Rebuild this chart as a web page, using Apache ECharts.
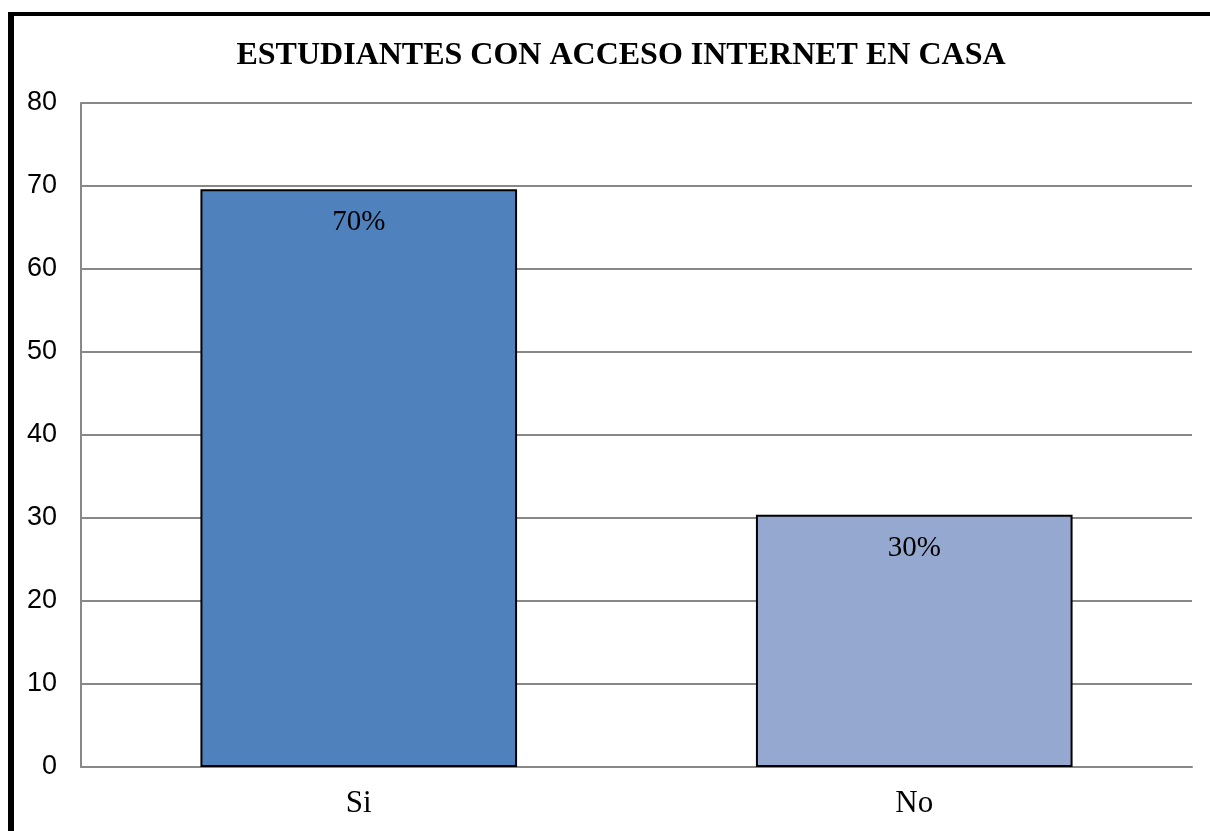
<!DOCTYPE html>
<html>
<head>
<meta charset="utf-8">
<script src="https://cdn.jsdelivr.net/npm/echarts@6/dist/echarts.min.js"></script>
<style>
html,body{margin:0;padding:0;background:#fff;}
#chart{width:1210px;height:831px;}
</style>
</head>
<body>
<div id="chart"></div>
<script>
const titleText = 'ESTUDIANTES CON ACCESO INTERNET EN CASA';
const categories = ['Si', 'No'];
const values = [69.6, 30.4];
const labels = ['70%', '30%'];
const barColors = ['#4F81BD', '#95A9D0'];
const yTicks = {min: 0, max: 80, interval: 10};

const chart = echarts.init(document.getElementById('chart'), null, {renderer: 'canvas'});
chart.setOption({
  animation: false,
  backgroundColor: '#fff',
  title: {
    text: titleText,
    left: 616, top: 35, textAlign: 'center',
    textStyle: {fontFamily: 'Liberation Serif', fontWeight: 'bold', fontSize: 32, color: '#000'}
  },
  graphic: [
    {type: 'rect', shape: {x: 8, y: 12, width: 6, height: 830}, style: {fill: '#000'}, z: 100},
    {type: 'rect', shape: {x: 8, y: 12, width: 1210, height: 4}, style: {fill: '#000'}, z: 100}
  ],
  grid: {left: 81, right: 18, top: 103, bottom: 64, containLabel: false},
  xAxis: {
    type: 'category',
    data: categories,
    axisLine: {show: true, lineStyle: {color: '#888', width: 2}},
    axisTick: {show: false},
    axisLabel: {fontFamily: 'Liberation Serif', fontSize: 31, color: '#000', margin: 21}
  },
  yAxis: {
    type: 'value',
    min: yTicks.min, max: yTicks.max, interval: yTicks.interval,
    axisLine: {show: true, lineStyle: {color: '#888', width: 2}},
    axisTick: {show: false},
    splitLine: {show: true, lineStyle: {color: '#888', width: 2}},
    axisLabel: {fontFamily: 'Liberation Sans', fontSize: 27, color: '#000', margin: 24}
  },
  series: [{
    type: 'bar',
    barWidth: '57%',
    data: values.map((v, i) => ({
      value: v,
      itemStyle: {color: barColors[i], borderColor: '#000', borderWidth: 2},
      label: {formatter: labels[i]}
    })),
    label: {
      show: true, position: 'insideTop', distance: 19,
      fontFamily: 'Liberation Serif', fontSize: 29, color: '#000'
    }
  }]
});
</script>
</body>
</html>
